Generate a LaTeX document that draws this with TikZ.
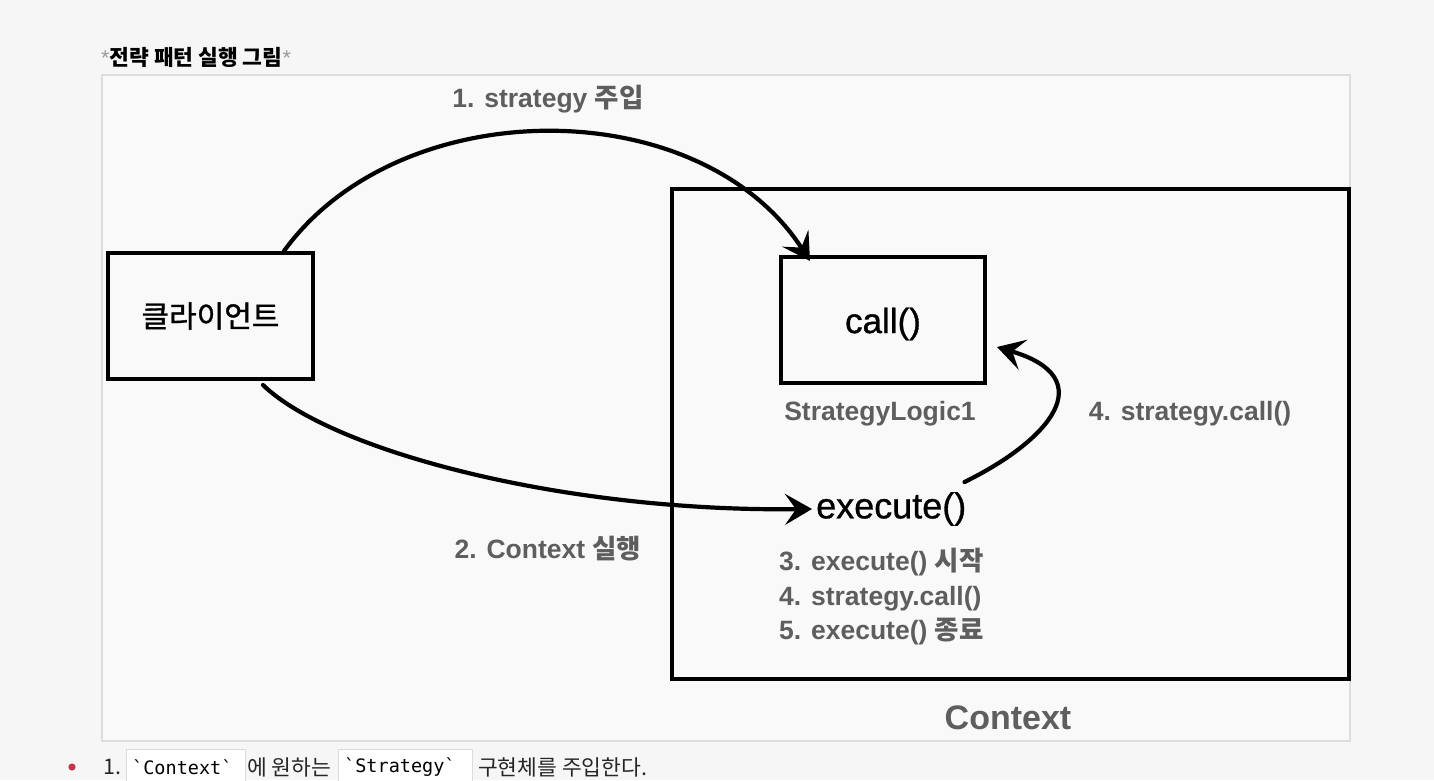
\documentclass[tikz,border=0pt]{standalone}
\usepackage{fontspec}
\setmainfont{Liberation Sans}
\newfontfamily\kr{Noto Sans CJK KR}
\newfontfamily\krm{Noto Sans CJK KR}[FakeBold=1.2]
\newfontfamily\medsans{Liberation Sans}[FakeBold=0.9]
\newfontfamily\codefont{DejaVu Sans Mono}
\usetikzlibrary{arrows.meta}
\definecolor{pagebg}{HTML}{F6F6F6}
\definecolor{panelbg}{HTML}{F9F9F9}
\definecolor{panelline}{HTML}{DDDDDD}
\definecolor{labelgray}{HTML}{5E5E5E}
\definecolor{stargray}{HTML}{9A9A9A}
\definecolor{bulletred}{HTML}{C0394B}
\definecolor{codeline}{HTML}{DCDCDC}
\tikzset{
  box/.style={draw=black, line width=4pt, inner sep=0pt, anchor=north west},
  lbl/.style={text=labelgray, inner sep=0pt, font=\fontsize{26.5}{30}\selectfont\bfseries},
  arr/.style={draw=black, line width=4.2pt, line cap=round,
    -{Stealth[length=27pt,width=31pt,inset=11pt]}},
  codebox/.style={draw=codeline, fill=white, line width=0.8pt, inner sep=0pt, anchor=north west},
  codetxt/.style={inner sep=0pt, anchor=west, font=\codefont\fontsize{18.5}{22}\selectfont},
  bodytxt/.style={inner sep=0pt, anchor=west, text=black!85, font=\kr\fontsize{21.5}{24}\selectfont}
}
\begin{document}
\begin{tikzpicture}[x=1pt,y=-1pt]
\fill[pagebg] (0,0) rectangle (1434,780);
\useasboundingbox (0,0) rectangle (1434,780);

% title
\node[anchor=west, inner sep=0pt, font=\fontsize{21.5}{24}\selectfont] (title) at (101,57)
  {\textcolor{stargray}{*}{\kr\bfseries 전략 패턴 실행 그림}\textcolor{stargray}{*}};

% panel
\draw[panelline, fill=panelbg, line width=1.2pt] (102,75) rectangle (1350,741);

% boxes
\node[box, minimum width=677pt, minimum height=490pt] (ctx) at (670,187) {};
\node[box, minimum width=205pt, minimum height=126pt] (client) at (106,251) {};
\node[font=\krm\fontsize{30}{34}\selectfont, inner sep=0pt] (clientlbl) at (client.center) {클라이언트};
\node[box, minimum width=204pt, minimum height=126pt] (call) at (779,255) {};
\node[font=\medsans\fontsize{35}{38}\selectfont, inner sep=0pt] (calllbl) at ([yshift=-4pt]call.center) {call()};

% labels
\node[lbl] (stratlogic) at (880,414) {StrategyLogic1};
\node[font=\medsans\fontsize{36}{40}\selectfont, inner sep=0pt, anchor=west] (exec) at (816,509) {execute()};
\node[lbl] (callright) at (1190,414) {4. strategy.call()};
\node[lbl, anchor=west] (s3) at (779,562) {3. execute() {\kr 시작}};
\node[lbl, anchor=west] (s4) at (779,599) {4. strategy.call()};
\node[lbl, anchor=west] (s5) at (779,632) {5. execute() {\kr 종료}};
\node[lbl, font=\fontsize{34}{38}\selectfont\bfseries] (ctxlbl) at (1008,718) {Context};
\node[lbl] (l1) at (548,99) {1. strategy {\kr 주입}};
\node[lbl] (l2) at (548,549) {2. Context {\kr 실행}};

% connectors
\draw[arr] ([xshift=-31pt]client.north east) .. controls (400,91) and (700,91) .. ([xshift=31pt,yshift=-6pt]call.north west);
\draw[arr] ([xshift=-52pt,yshift=-4pt]client.south east) .. controls (330,450) and (560,512) .. ([xshift=-4pt]exec.west);
\draw[arr] ([xshift=-2pt,yshift=10pt]exec.north east) .. controls (1050,440) and (1102,378) .. ([xshift=10pt,yshift=-27pt]call.east);

% bottom text line
\fill[bulletred] (72,767) circle (3.6pt);
\node[bodytxt] (num) at (103,767) {1.};
\node[codebox, minimum width=119pt, minimum height=40pt] (code1) at (126,749) {};
\node[codetxt] (code1t) at (132,767) {`Context`};
\node[bodytxt] (t1) at (247,767) {에 원하는};
\node[codebox, minimum width=134pt, minimum height=40pt] (code2) at (338,749) {};
\node[codetxt] (code2t) at (344,767) {`Strategy`};
\node[bodytxt] (t2) at (478,767) {구현체를 주입한다.};
\end{tikzpicture}
\end{document}
